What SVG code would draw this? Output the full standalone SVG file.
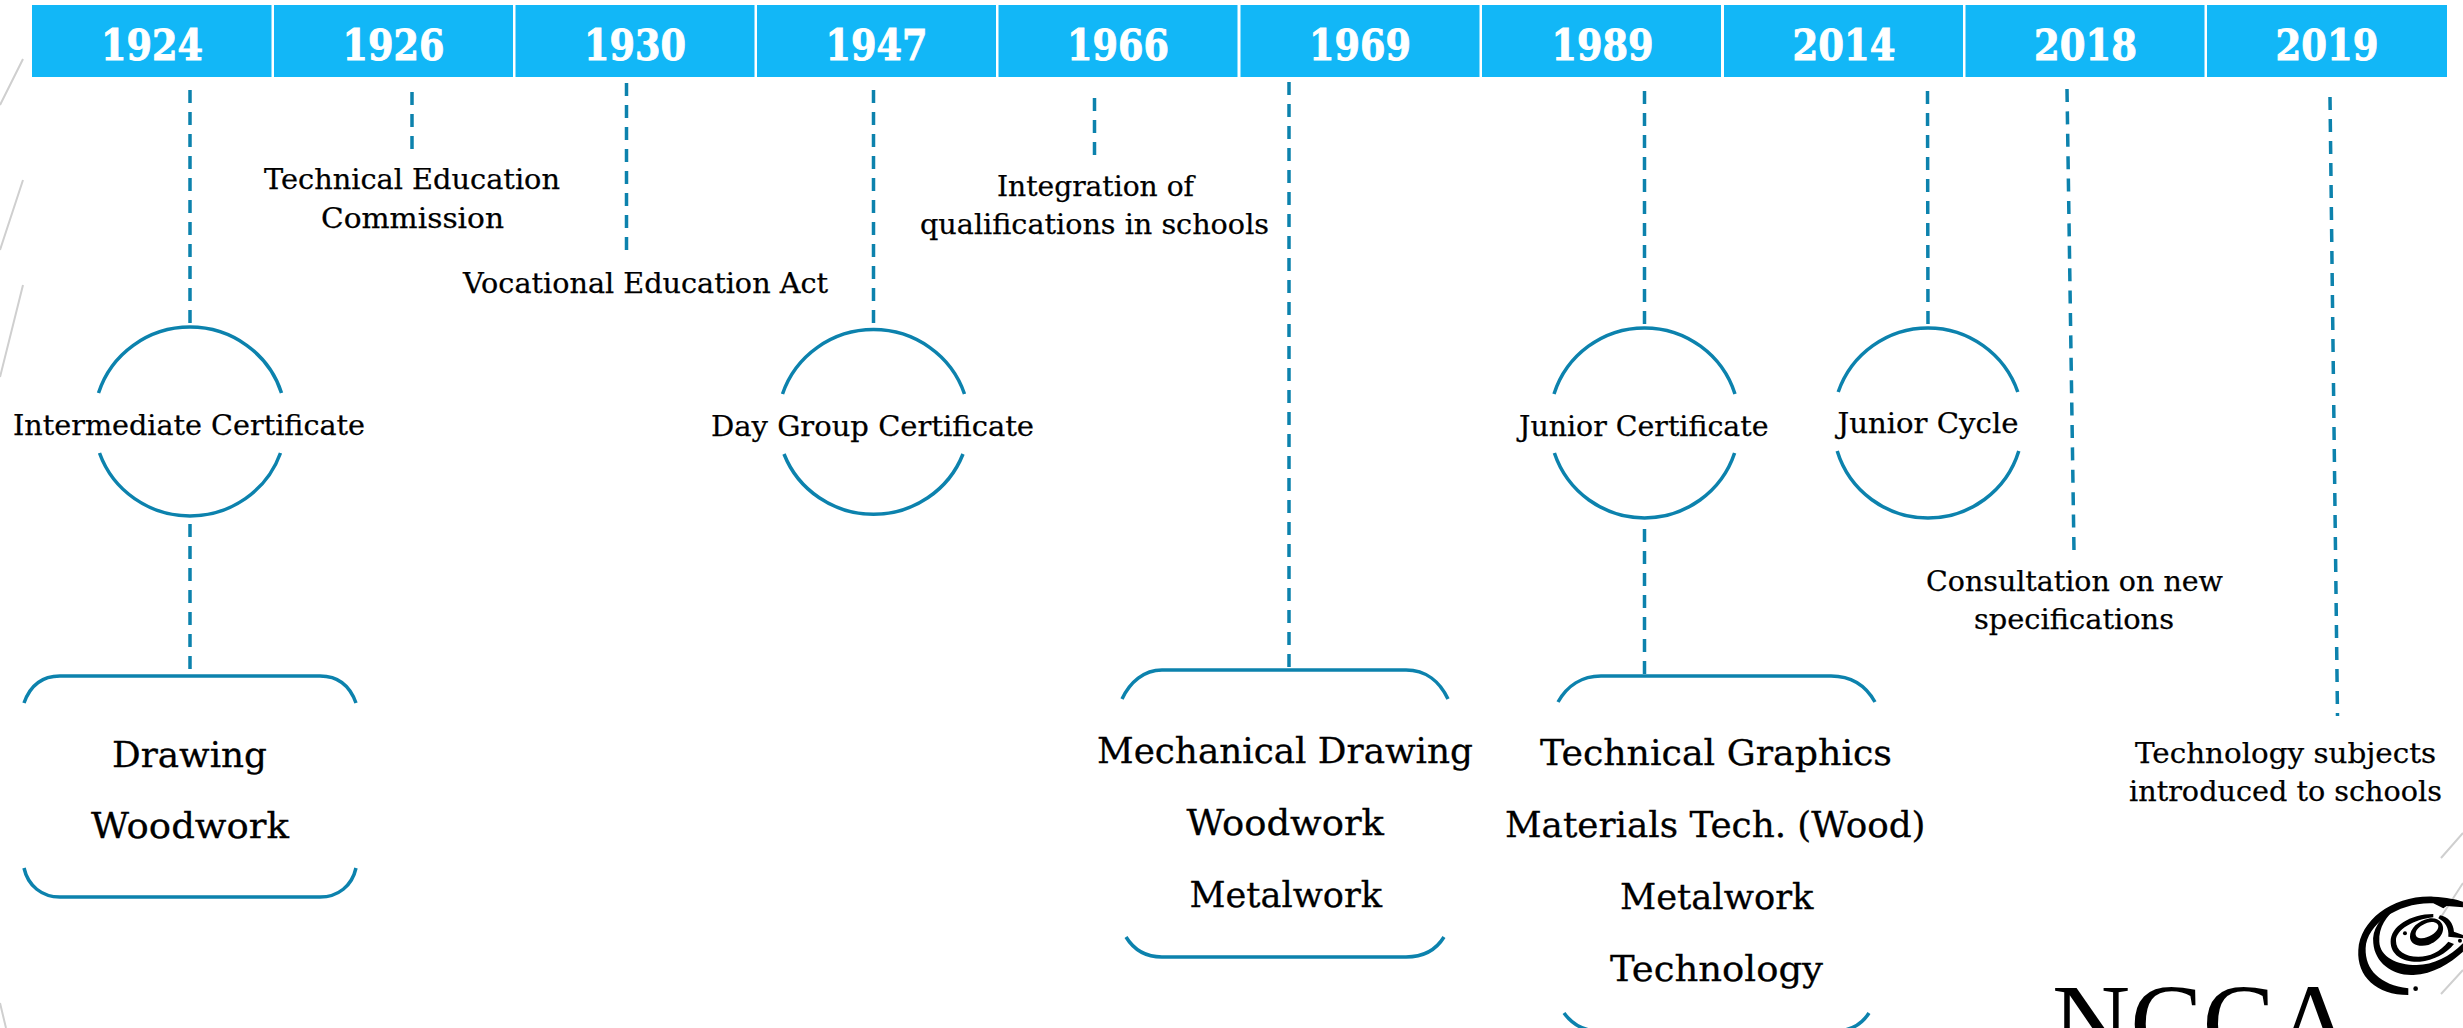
<svg xmlns="http://www.w3.org/2000/svg" width="2463" height="1028" viewBox="0 0 2463 1028">
<style>
text{font-family:"DejaVu Serif","Liberation Serif",serif;fill:#000}
.s{font-size:27px;stroke:#000;stroke-width:.25}
.l{font-size:36px;stroke:#000;stroke-width:.3}
.y{font-size:42px;font-weight:700;fill:#fff;stroke:#fff;stroke-width:.9;text-anchor:middle}
.cell{fill:#12b7f7}
.dash{fill:none;stroke:#0c82ad;stroke-width:3.5;stroke-dasharray:13 9}
.arc{fill:none;stroke:#0c82ad;stroke-width:3.5}
.bg{fill:none;stroke:#cfcfcf;stroke-width:2}
</style>
<rect width="2463" height="1028" fill="#fff"/>
<g id="background-lines">
<path class="bg" d="M23 59L0 105M23 180L0 250M23 285L0 377M0 1003L6 1028M2441 858L2463 833M2441 994L2463 970M2441 917L2463 883"/>
</g>
<g id="timeline-bar">
<rect class="cell" x="32" y="5" width="239.5" height="72"/>
<rect class="cell" x="274" y="5" width="239" height="72"/>
<rect class="cell" x="515.500" y="5" width="239" height="72"/>
<rect class="cell" x="757" y="5" width="239" height="72"/>
<rect class="cell" x="998.500" y="5" width="239" height="72"/>
<rect class="cell" x="1240.500" y="5" width="239" height="72"/>
<rect class="cell" x="1482" y="5" width="239" height="72"/>
<rect class="cell" x="1724" y="5" width="239" height="72"/>
<rect class="cell" x="1965.500" y="5" width="239" height="72"/>
<rect class="cell" x="2207" y="5" width="240" height="72"/>
<text class="y" x="152" y="60" textLength="102" lengthAdjust="spacingAndGlyphs">1924</text>
<text class="y" x="393.500" y="60" textLength="102" lengthAdjust="spacingAndGlyphs">1926</text>
<text class="y" x="635" y="60" textLength="102" lengthAdjust="spacingAndGlyphs">1930</text>
<text class="y" x="876.500" y="60" textLength="102" lengthAdjust="spacingAndGlyphs">1947</text>
<text class="y" x="1118" y="60" textLength="102" lengthAdjust="spacingAndGlyphs">1966</text>
<text class="y" x="1360" y="60" textLength="102" lengthAdjust="spacingAndGlyphs">1969</text>
<text class="y" x="1602.500" y="60" textLength="102" lengthAdjust="spacingAndGlyphs">1989</text>
<text class="y" x="1844" y="60" textLength="103" lengthAdjust="spacingAndGlyphs">2014</text>
<text class="y" x="2085.500" y="60" textLength="103" lengthAdjust="spacingAndGlyphs">2018</text>
<text class="y" x="2327" y="60" textLength="103" lengthAdjust="spacingAndGlyphs">2019</text>
</g>
<g id="connectors">
<path class="dash" d="M190 90V327"/>
<path class="dash" d="M190 524V672"/>
<path class="dash" d="M412 92V150"/>
<path class="dash" d="M626.500 83V253"/>
<path class="dash" d="M873.500 90V327"/>
<path class="dash" d="M1094.500 98V157"/>
<path class="dash" d="M1289 82V670"/>
<path class="dash" d="M1644.500 91V328"/>
<path class="dash" d="M1644.500 529V676"/>
<path class="dash" d="M1927.500 91L1928 328"/>
<path class="dash" style="stroke-dasharray:13 9.4" d="M2067 89L2074 551"/>
<path class="dash" d="M2330 97L2337.500 716"/>
</g>
<g id="node-technical-education-commission">
<text class="s" x="264" y="189" textLength="296" lengthAdjust="spacingAndGlyphs">Technical Education</text>
<text class="s" x="321" y="228" textLength="183" lengthAdjust="spacingAndGlyphs">Commission</text>
</g>
<g id="node-vocational-education-act">
<text class="s" x="463" y="293" textLength="365" lengthAdjust="spacingAndGlyphs">Vocational Education Act</text>
</g>
<g id="node-integration">
<text class="s" x="997" y="196" textLength="197" lengthAdjust="spacingAndGlyphs">Integration of</text>
<text class="s" x="920" y="234" textLength="349" lengthAdjust="spacingAndGlyphs">qualifications in schools</text>
</g>
<g id="node-consultation">
<text class="s" x="1926" y="591" textLength="297" lengthAdjust="spacingAndGlyphs">Consultation on new</text>
<text class="s" x="1974" y="629" textLength="200" lengthAdjust="spacingAndGlyphs">specifications</text>
</g>
<g id="node-technology-subjects">
<text class="s" x="2135" y="763" textLength="301" lengthAdjust="spacingAndGlyphs">Technology subjects</text>
<text class="s" x="2129" y="801" textLength="313" lengthAdjust="spacingAndGlyphs">introduced to schools</text>
</g>
<g id="node-intermediate-certificate">
<path class="arc" d="M98.500 393A96 94.500 0 0 1 281.500 393M99.500 453A96 94.500 0 0 0 280.500 453"/>
<text class="s" x="13" y="435" textLength="352" lengthAdjust="spacingAndGlyphs">Intermediate Certificate</text>
</g>
<g id="node-day-group-certificate">
<path class="arc" d="M782.500 394A96 94.500 0 0 1 964.500 394M784 454A96 94.500 0 0 0 963 454"/>
<text class="s" x="711" y="436" textLength="323" lengthAdjust="spacingAndGlyphs">Day Group Certificate</text>
</g>
<g id="node-junior-certificate">
<path class="arc" d="M1554 394A95 95 0 0 1 1735 394M1554.400 453A95 95 0 0 0 1734.600 453"/>
<text class="s" x="1519" y="436" textLength="249.500" lengthAdjust="spacingAndGlyphs">Junior Certificate</text>
</g>
<g id="node-junior-cycle">
<path class="arc" d="M1838.200 392A95 95 0 0 1 2017.800 392M1837.200 451A95 95 0 0 0 2018.800 451"/>
<text class="s" x="1837.500" y="433" textLength="181" lengthAdjust="spacingAndGlyphs">Junior Cycle</text>
</g>
<g id="node-subjects-1924">
<path class="arc" d="M24 703C30 686 42 676 60 676H320C338 676 350 686 356 703M24 868C28 886 42 897 60 897H320C338 897 352 886 356 868"/>
<text class="l" x="112" y="767" textLength="155" lengthAdjust="spacingAndGlyphs">Drawing</text>
<text class="l" x="91" y="838" textLength="198" lengthAdjust="spacingAndGlyphs">Woodwork</text>
</g>
<g id="node-subjects-1969">
<path class="arc" d="M1122 699C1130 682 1144 670 1162 670H1406C1426 670 1440 682 1448 699M1126 937C1134 950 1146 957 1162 957H1406C1424 957 1436 950 1444 937"/>
<text class="l" x="1097" y="763" textLength="376" lengthAdjust="spacingAndGlyphs">Mechanical Drawing</text>
<text class="l" x="1186.500" y="835" textLength="197.500" lengthAdjust="spacingAndGlyphs">Woodwork</text>
<text class="l" x="1189.500" y="907" textLength="192.500" lengthAdjust="spacingAndGlyphs">Metalwork</text>
</g>
<g id="node-subjects-1989">
<path class="arc" d="M1558 702C1567 686 1582 676 1601 676H1831C1852 676 1866 686 1875 702M1564 1013C1572 1024 1582 1030 1596 1031H1838C1852 1030 1862 1024 1869 1013"/>
<text class="l" x="1540" y="765" textLength="352" lengthAdjust="spacingAndGlyphs">Technical Graphics</text>
<text class="l" x="1505" y="837" textLength="420.500" lengthAdjust="spacingAndGlyphs">Materials Tech. (Wood)</text>
<text class="l" x="1620" y="909" textLength="193.500" lengthAdjust="spacingAndGlyphs">Metalwork</text>
<text class="l" x="1610" y="981" textLength="213" lengthAdjust="spacingAndGlyphs">Technology</text>
</g>
<g id="logo">
<text x="2052" y="1059" textLength="301" lengthAdjust="spacingAndGlyphs" style="font-family:'Liberation Serif',serif;font-size:108px">NCCA</text>
<g transform="translate(2100 820) scale(.3333)" fill="#000">
<path d="M925 525C830 525 770 470 775 390C780 300 880 225 1000 230C1040 232 1070 238 1089 245V262L1040 258L1030 265L1000 250C900 245 800 310 797 385C795 450 840 495 925 505Z"/>
<path d="M890 262C840 290 815 330 820 370C825 430 880 468 940 465C1000 462 1050 430 1089 395V370C1050 410 1000 435 950 435C890 435 840 410 838 365C836 320 860 290 890 262Z"/>
<path d="M1000 282C930 282 872 320 872 365C872 405 910 428 960 425C1000 422 1040 400 1062 372L1045 365C1020 395 990 410 955 410C915 410 888 392 888 362C888 330 940 298 1000 292Z"/>
<path d="M1020 286C1045 290 1060 310 1062 335L1089 345V355L1045 350C1048 325 1035 305 1015 295Z"/>
<path fill-rule="evenodd" d="M1025 310C1040 335 1015 365 985 375C955 382 930 372 930 350C930 325 955 302 985 296C1003 293 1018 298 1025 310ZM1012 312C1002 303 985 305 968 315C950 325 942 340 950 350C960 358 980 355 995 345C1012 335 1020 320 1012 312Z"/>
<circle cx="915" cy="340" r="6"/><circle cx="947" cy="506" r="7"/><circle cx="1080" cy="362" r="6"/>
</g>
</g>
</svg>
